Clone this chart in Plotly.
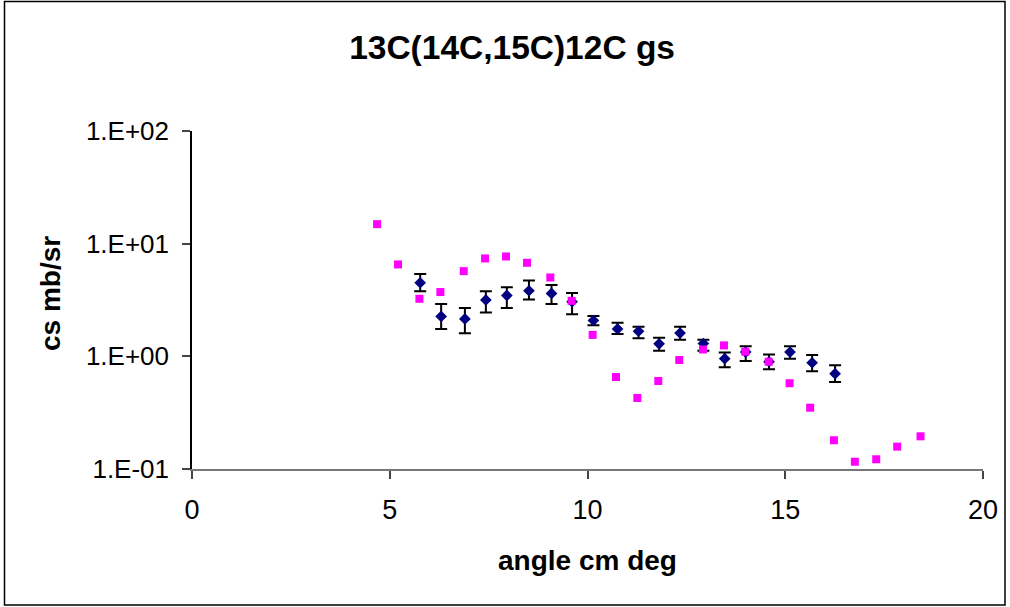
import plotly.graph_objects as go

# Blue diamonds (data with error bars)
data_angle = [5.77, 6.30, 6.90, 7.43, 7.96, 8.52, 9.09, 9.61, 10.15, 10.76,
              11.29, 11.81, 12.34, 12.93, 13.47, 14.00, 14.59, 15.12, 15.68, 16.26]
data_cs = [4.50, 2.26, 2.15, 3.17, 3.47, 3.82, 3.62, 3.05, 2.08, 1.75,
           1.67, 1.29, 1.61, 1.30, 0.953, 1.09, 0.895, 1.09, 0.877, 0.701]
data_err_plus = [0.87, 0.65, 0.53, 0.62, 0.64, 0.90, 0.67, 0.59, 0.20, 0.24,
                 0.16, 0.17, 0.22, 0.10, 0.13, 0.14, 0.145, 0.14, 0.153, 0.131]
data_err_minus = [0.71, 0.51, 0.55, 0.72, 0.79, 0.62, 0.71, 0.69, 0.19, 0.17,
                  0.22, 0.17, 0.21, 0.18, 0.155, 0.18, 0.128, 0.137, 0.141, 0.109]

# Magenta squares (calculation)
calc_angle = [4.68, 5.21, 5.75, 6.28, 6.87, 7.41, 7.94, 8.47, 9.06, 9.60,
              10.13, 10.72, 11.26, 11.79, 12.32, 12.92, 13.45, 13.99, 14.58, 15.11,
              15.63, 16.23, 16.76, 17.30, 17.83, 18.42]
calc_cs = [14.9, 6.54, 3.24, 3.72, 5.70, 7.39, 7.70, 6.76, 5.01, 3.11,
           1.55, 0.655, 0.427, 0.604, 0.927, 1.15, 1.25, 1.10, 0.896, 0.577,
           0.350, 0.180, 0.116, 0.122, 0.158, 0.195]

x_ticks = [0, 5, 10, 15, 20]
y_tickvals = [0.1, 1, 10, 100]
y_ticktext = ["1.E-01", "1.E+00", "1.E+01", "1.E+02"]

FONT = "Liberation Sans, Arial, sans-serif"

fig = go.Figure()
fig.add_trace(go.Scatter(
    x=data_angle, y=data_cs, mode="markers",
    marker=dict(symbol="diamond", size=9, color="#000080"),
    error_y=dict(type="data", symmetric=False, array=data_err_plus,
                 arrayminus=data_err_minus, color="black", thickness=2, width=6),
    showlegend=False,
))
fig.add_trace(go.Scatter(
    x=calc_angle, y=calc_cs, mode="markers",
    marker=dict(symbol="square", size=8, color="#FF00FF"),
    showlegend=False,
))

L, R, T, B = 192, 27, 131, 138
W, H = 1010, 607
pw, ph = W - L - R, H - T - B

def px(x):
    return (x - L) / pw

def py(y):
    return (H - B - y) / ph

fig.update_layout(
    width=W, height=H,
    margin=dict(l=L, r=R, t=T, b=B),
    paper_bgcolor="white", plot_bgcolor="white",
    font=dict(family=FONT, size=26, color="black"),
    title=dict(text="<b>13C(14C,15C)12C gs</b>", font=dict(size=33.5, family=FONT),
               xref="container", x=0.507, xanchor="center",
               yref="container", y=1 - 47 / H, yanchor="middle"),
    xaxis=dict(range=[0, 20], tickvals=x_ticks, showgrid=False, zeroline=False,
               showline=True, linecolor="#777777", linewidth=1.5,
               ticks="outside", ticklen=8, tickcolor="#444444", tickwidth=1.5,
               ticklabelstandoff=8,
               tickfont=dict(size=27, family=FONT)),
    yaxis=dict(type="log", range=[-1, 2], tickvals=y_tickvals, ticktext=y_ticktext,
               showgrid=False, zeroline=False, showline=True, linecolor="black",
               linewidth=1.5, ticks="outside", ticklen=8, tickcolor="#444444",
               tickwidth=1.5, ticklabelstandoff=8,
               tickfont=dict(size=26, family=FONT)),
    shapes=[dict(type="rect", xref="paper", yref="paper",
                 x0=px(4.5), x1=px(1005), y0=py(605), y1=py(1.5),
                 line=dict(color="black", width=1.5), fillcolor="rgba(0,0,0,0)",
                 layer="below")],
    annotations=[
        dict(text="<b>angle cm deg</b>", xref="paper", yref="paper",
             x=px(587.5), y=py(560), xanchor="center", yanchor="middle",
             showarrow=False, font=dict(size=28, family=FONT)),
        dict(text="<b>cs mb/sr</b>", xref="paper", yref="paper",
             x=px(50), y=py(294), xanchor="center", yanchor="middle",
             textangle=-90, showarrow=False, font=dict(size=28, family=FONT)),
    ],
)

fig.write_html("out.html")
